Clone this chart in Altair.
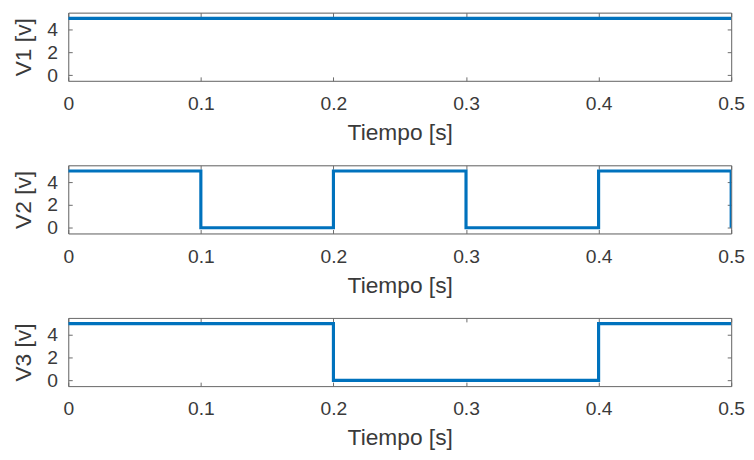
import altair as alt
import pandas as pd

# Step signals (step-after points)
t1 = [0.0, 0.5]
v1 = [5, 5]
t2 = [0.0, 0.1, 0.2, 0.3, 0.4, 0.5]
v2 = [5, 0, 5, 0, 5, 0]
t3 = [0.0, 0.2, 0.4, 0.5]
v3 = [5, 0, 5, 5]

x_ticks = [0, 0.1, 0.2, 0.3, 0.4, 0.5]
y_ticks = [0, 2, 4]
x_title = "Tiempo [s]"
y_titles = ["V1 [v]", "V2 [v]", "V3 [v]"]

BLUE = "#0072BD"
AX = "#6b6b6b"
TXT = "#3a3a3a"
FONT = "Liberation Sans"
W, H = 671, 69
LFS, TFS = 19.5, 23


def panel(ts, vs, ytitle):
    df = pd.DataFrame({"t": ts, "v": vs})
    xs = alt.Scale(domain=[0, 0.5], nice=False, zero=False)
    ys = alt.Scale(domain=[-0.5, 5.5], nice=False, zero=False)
    base = alt.Chart(df)
    main = base.mark_line(interpolate="step-after", color=BLUE, strokeWidth=3.2, clip=True).encode(
        x=alt.X("t:Q", scale=xs, axis=alt.Axis(
            orient="bottom", values=x_ticks, format="~g", title=x_title,
            grid=False, domainColor=AX, tickColor=AX, tickSize=alt.ExprRef("-4"),
            labelPadding=18, labelFontSize=LFS, labelColor=TXT, labelFont=FONT,
            titleFontSize=TFS, titleColor=TXT, titleFont=FONT, titleFontWeight="normal",
            titlePadding=9, labelFlush=False)),
        y=alt.Y("v:Q", scale=ys, axis=alt.Axis(
            orient="left", values=y_ticks, title=ytitle, grid=False,
            domainColor=AX, tickColor=AX, tickSize=alt.ExprRef("-4"),
            labelPadding=15, labelFontSize=LFS, labelColor=TXT, labelFont=FONT,
            titleFontSize=TFS, titleColor=TXT, titleFont=FONT, titleFontWeight="normal",
            titlePadding=11)),
    )
    frame = base.mark_line(strokeOpacity=0).encode(
        x=alt.X("t:Q", scale=xs, axis=alt.Axis(
            orient="top", values=x_ticks, labels=False, title=None, grid=False,
            domainColor=AX, tickColor=AX, tickSize=alt.ExprRef("-4"))),
        y=alt.Y("v:Q", scale=ys, axis=alt.Axis(
            orient="right", values=y_ticks, labels=False, title=None, grid=False,
            domainColor=AX, tickColor=AX, tickSize=alt.ExprRef("-4"))),
    )
    return alt.layer(main, frame).resolve_axis(x="independent", y="independent").properties(
        width=W, height=H)


chart = alt.vconcat(
    panel(t1, v1, y_titles[0]),
    panel(t2, v2, y_titles[1]),
    panel(t3, v3, y_titles[2]),
    spacing=19.5,
).properties(
    padding={"left": 4, "top": 1, "right": 0, "bottom": 0}
).configure_view(stroke=None).configure(background="white")

chart.save("out.html", embed_options={"renderer": "svg", "actions": False})
